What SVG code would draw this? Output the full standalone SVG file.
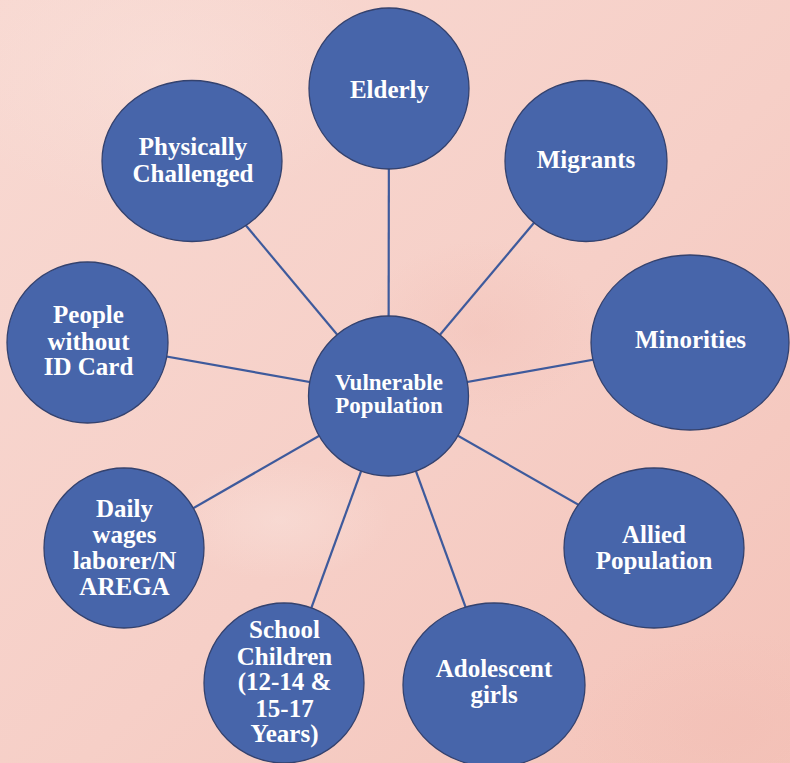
<svg xmlns="http://www.w3.org/2000/svg" width="790" height="763" viewBox="0 0 790 763">
  <defs>
    <linearGradient id="bg" x1="0" y1="0" x2="1" y2="1">
      <stop offset="0" stop-color="#F8D9D2"/>
      <stop offset="0.55" stop-color="#F6CFC7"/>
      <stop offset="1" stop-color="#F4C3B9"/>
    </linearGradient>
    <radialGradient id="blobA" cx="0.5" cy="0.5" r="0.5">
      <stop offset="0" stop-color="#F9E2DC" stop-opacity="0.5"/>
      <stop offset="1" stop-color="#F9E2DC" stop-opacity="0"/>
    </radialGradient>
    <radialGradient id="blobB" cx="0.5" cy="0.5" r="0.5">
      <stop offset="0" stop-color="#F1BBB1" stop-opacity="0.35"/>
      <stop offset="1" stop-color="#F1BBB1" stop-opacity="0"/>
    </radialGradient>
    <style>
      .node { fill: #4765AA; stroke: #34426E; stroke-width: 1.3; }
      .lbl { fill: #FFFFFF; font-family: "Liberation Serif", "Times New Roman", serif; font-weight: 700; font-size: 25px; text-anchor: middle; }
      .ctr { font-size: 23px; }
      .link { stroke: #3E5A9C; stroke-width: 2.2; fill: none; }
    </style>
  </defs>

  <rect x="0" y="0" width="790" height="763" fill="url(#bg)"/>
  <ellipse cx="160" cy="70" rx="220" ry="140" fill="url(#blobA)"/>
  <ellipse cx="280" cy="520" rx="110" ry="60" fill="url(#blobA)"/>
  <ellipse cx="480" cy="330" rx="120" ry="90" fill="url(#blobB)"/>
  <ellipse cx="730" cy="730" rx="160" ry="100" fill="url(#blobB)"/>

  <g id="connectors">
    <line class="link" x1="388.5" y1="396" x2="389" y2="88.5"/>
    <line class="link" x1="388.5" y1="396" x2="586" y2="161"/>
    <line class="link" x1="388.5" y1="396" x2="690" y2="342.5"/>
    <line class="link" x1="388.5" y1="396" x2="654" y2="548"/>
    <line class="link" x1="388.5" y1="396" x2="494" y2="685"/>
    <line class="link" x1="388.5" y1="396" x2="284" y2="683"/>
    <line class="link" x1="388.5" y1="396" x2="124" y2="548"/>
    <line class="link" x1="388.5" y1="396" x2="87.5" y2="342.5"/>
    <line class="link" x1="388.5" y1="396" x2="192" y2="161"/>
  </g>

  <g id="node-center">
    <circle class="node" cx="388.5" cy="396" r="80"/>
    <text class="lbl ctr" x="389" y="390">Vulnerable</text>
    <text class="lbl ctr" x="389" y="413">Population</text>
  </g>

  <g id="node-elderly">
    <ellipse class="node" cx="389" cy="88.5" rx="80" ry="80.5"/>
    <text class="lbl" x="389.5" y="98">Elderly</text>
  </g>

  <g id="node-migrants">
    <ellipse class="node" cx="586" cy="161" rx="81" ry="80.5"/>
    <text class="lbl" x="586" y="168">Migrants</text>
  </g>

  <g id="node-minorities">
    <ellipse class="node" cx="690" cy="342.5" rx="99" ry="87.5"/>
    <text class="lbl" x="690.5" y="348">Minorities</text>
  </g>

  <g id="node-allied">
    <ellipse class="node" cx="654" cy="548" rx="90" ry="80"/>
    <text class="lbl" x="654" y="543">Allied</text>
    <text class="lbl" x="654" y="569">Population</text>
  </g>

  <g id="node-adolescent">
    <ellipse class="node" cx="494" cy="685" rx="91" ry="82"/>
    <text class="lbl" x="494" y="677">Adolescent</text>
    <text class="lbl" x="494" y="703">girls</text>
  </g>

  <g id="node-school">
    <ellipse class="node" cx="284" cy="683" rx="80" ry="80"/>
    <text class="lbl" x="284.5" y="638">School</text>
    <text class="lbl" x="284.5" y="665">Children</text>
    <text class="lbl" x="284.5" y="690">(12-14 &amp;</text>
    <text class="lbl" x="284.5" y="717">15-17</text>
    <text class="lbl" x="284.5" y="742">Years)</text>
  </g>

  <g id="node-daily">
    <ellipse class="node" cx="124" cy="548" rx="80" ry="80"/>
    <text class="lbl" x="124.5" y="517">Daily</text>
    <text class="lbl" x="124.5" y="543">wages</text>
    <text class="lbl" x="124.5" y="569">laborer/N</text>
    <text class="lbl" x="124.5" y="595">AREGA</text>
  </g>

  <g id="node-idcard">
    <ellipse class="node" cx="87.5" cy="342.5" rx="80.5" ry="80.5"/>
    <text class="lbl" x="88.5" y="323">People</text>
    <text class="lbl" x="88.5" y="350">without</text>
    <text class="lbl" x="88.5" y="375">ID Card</text>
  </g>

  <g id="node-physical">
    <ellipse class="node" cx="192" cy="161" rx="90" ry="80.5"/>
    <text class="lbl" x="193" y="155">Physically</text>
    <text class="lbl" x="193" y="182">Challenged</text>
  </g>
</svg>
